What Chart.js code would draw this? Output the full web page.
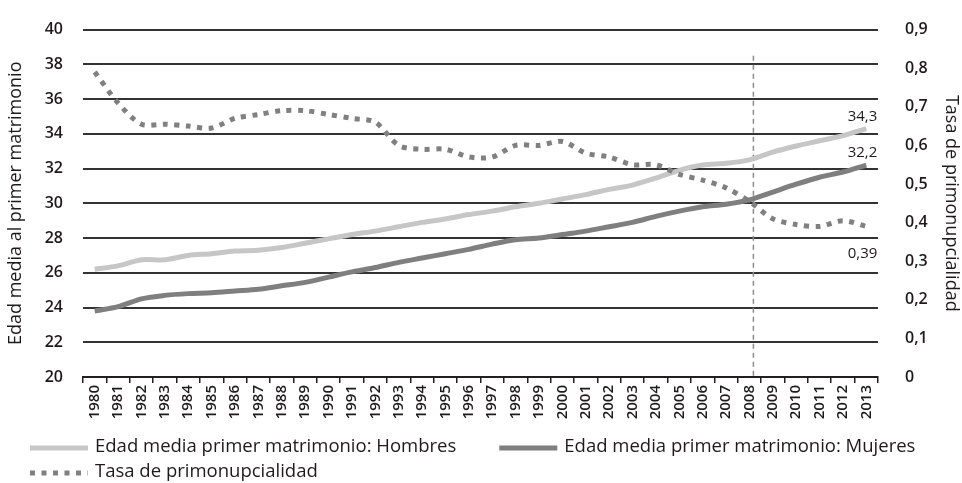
<!DOCTYPE html>
<html>
<head>
<meta charset="utf-8">
<script src="https://cdn.jsdelivr.net/npm/chart.js@4.4.1/dist/chart.umd.min.js"></script>
<style>
  html, body { margin: 0; padding: 0; background: #fff; }
  #wrap { width: 962px; height: 483px; }
</style>
</head>
<body>
<div id="wrap"><canvas id="chart"></canvas></div>
<script>
const years = ['1980', '1981', '1982', '1983', '1984', '1985', '1986', '1987', '1988', '1989',
    '1990', '1991', '1992', '1993', '1994', '1995', '1996', '1997', '1998', '1999',
    '2000', '2001', '2002', '2003', '2004', '2005', '2006', '2007', '2008', '2009',
    '2010', '2011', '2012', '2013'];

const edadHombres = [26.2, 26.4, 26.75, 26.75, 27.0, 27.1, 27.25, 27.3, 27.45, 27.7,
    27.95, 28.2, 28.4, 28.65, 28.9, 29.1, 29.35, 29.55, 29.8, 30.0,
    30.25, 30.5, 30.8, 31.05, 31.45, 31.9, 32.2, 32.3, 32.5, 32.95,
    33.3, 33.6, 33.9, 34.3];

const edadMujeres = [23.8, 24.05, 24.5, 24.7, 24.8, 24.85, 24.95, 25.05, 25.25, 25.45,
    25.75, 26.05, 26.3, 26.6, 26.85, 27.1, 27.35, 27.65, 27.9, 28.0,
    28.2, 28.4, 28.65, 28.9, 29.25, 29.55, 29.8, 29.95, 30.2, 30.65,
    31.1, 31.5, 31.8, 32.2];

const tasaPrimo = [0.79, 0.71, 0.655, 0.655, 0.65, 0.645, 0.67, 0.68, 0.69, 0.69,
    0.68, 0.67, 0.66, 0.60, 0.59, 0.59, 0.57, 0.57, 0.60, 0.60,
    0.61, 0.58, 0.57, 0.55, 0.55, 0.525, 0.51, 0.49, 0.455, 0.41,
    0.395, 0.39, 0.405, 0.39];

const endLabels = ['34,3', '32,2', '0,39'];
const markYear = '2008';

const textColor = '#1e1a1b';
const fontFamily = '"Open Sans", "DejaVu Sans", sans-serif';

// dashed marker line at 2008
const markerLine = {
    id: 'markerLine',
    beforeDatasetsDraw(chart) {
        const { ctx, scales } = chart;
        const x = scales.x.getPixelForValue(years.indexOf(markYear)) + 4;
        ctx.save();
        ctx.strokeStyle = '#8c8c8c';
        ctx.lineWidth = 1.5;
        ctx.setLineDash([5, 4]);
        ctx.beginPath();
        ctx.moveTo(x, scales.y.getPixelForValue(38.5));
        ctx.lineTo(x, chart.chartArea.bottom);
        ctx.stroke();
        ctx.restore();
    }
};

// value labels at the last point of each series
const endValues = {
    id: 'endValues',
    afterDatasetsDraw(chart) {
        const ctx = chart.ctx;
        ctx.save();
        ctx.font = '15px ' + fontFamily;
        ctx.fillStyle = textColor;
        ctx.textAlign = 'right';
        ctx.textBaseline = 'middle';
        chart.data.datasets.forEach((ds, i) => {
            const meta = chart.getDatasetMeta(i);
            const pt = meta.data[meta.data.length - 1];
            const dy = i === 2 ? 27 : -12;
            ctx.fillText(endLabels[i], pt.x + 11, pt.y + dy);
        });
        ctx.restore();
    }
};

// legend below the chart, two items on the first row, one on the second
const bottomLegend = {
    id: 'bottomLegend',
    afterDraw(chart) {
        const ctx = chart.ctx;
        const rows = [[0, 1], [2]];
        const rowY = [448, 473];
        ctx.save();
        ctx.font = '18.5px ' + fontFamily;
        ctx.fillStyle = textColor;
        ctx.textBaseline = 'middle';
        rows.forEach((row, r) => {
            let x = 30;
            row.forEach(i => {
                const ds = chart.data.datasets[i];
                ctx.save();
                ctx.strokeStyle = ds.borderColor;
                ctx.lineWidth = ds.borderWidth;
                ctx.setLineDash(ds.borderDash || []);
                ctx.lineCap = 'butt';
                ctx.beginPath();
                ctx.moveTo(x, rowY[r]);
                ctx.lineTo(x + 58, rowY[r]);
                ctx.stroke();
                ctx.restore();
                ctx.fillText(ds.label, x + 65, rowY[r] - 1);
                x += 65 + ctx.measureText(ds.label).width + 43;
            });
        });
        ctx.restore();
    }
};

new Chart(document.getElementById('chart'), {
    type: 'line',
    data: {
        labels: years,
        datasets: [{
            label: 'Edad media primer matrimonio: Hombres',
            data: edadHombres,
            yAxisID: 'y',
            borderColor: '#c6c6c6',
            borderWidth: 5,
            tension: 0.3,
            order: 2
        }, {
            label: 'Edad media primer matrimonio: Mujeres',
            data: edadMujeres,
            yAxisID: 'y',
            borderColor: '#7f7f7f',
            borderWidth: 5,
            tension: 0.3,
            order: 1
        }, {
            label: 'Tasa de primonupcialidad',
            data: tasaPrimo,
            yAxisID: 'y1',
            borderColor: '#808080',
            borderWidth: 5,
            borderDash: [5, 6.5],
            borderCapStyle: 'butt',
            tension: 0.3,
            order: 0
        }]
    },
    options: {
        responsive: true,
        maintainAspectRatio: false,
        animation: false,
        layout: { padding: { top: 26, bottom: 55, left: 0, right: 0 } },
        elements: { point: { radius: 0 } },
        plugins: {
            legend: { display: false },
            tooltip: { enabled: false }
        },
        scales: {
            x: {
                offset: true,
                grid: {
                    offset: true,
                    drawOnChartArea: false,
                    color: '#231f20',
                    lineWidth: 1.5,
                    tickLength: 6
                },
                border: { color: '#231f20', width: 2 },
                ticks: {
                    autoSkip: false,
                    maxRotation: 90,
                    minRotation: 90,
                    padding: 2,
                    color: textColor,
                    font: { family: fontFamily, size: 15, weight: '600' }
                },
                afterFit: s => { s.height = 51; }
            },
            y: {
                position: 'left',
                min: 20,
                max: 40,
                ticks: {
                    stepSize: 2,
                    padding: 20,
                    color: textColor,
                    font: { family: fontFamily, size: 16, weight: '600' }
                },
                grid: { color: '#333', lineWidth: 2, drawTicks: false },
                border: { display: false },
                title: {
                    display: true,
                    text: 'Edad media al primer matrimonio',
                    color: textColor,
                    padding: { top: 5, bottom: 0 },
                    font: { family: fontFamily, size: 18 }
                },
                afterFit: s => { s.width = 83; }
            },
            y1: {
                position: 'right',
                min: 0,
                max: 0.9,
                ticks: {
                    stepSize: 0.1,
                    padding: 19,
                    color: textColor,
                    font: { family: fontFamily, size: 16, weight: '600' },
                    callback: v => v === 0 ? '0' : v.toFixed(1).replace('.', ',')
                },
                grid: { display: false },
                border: { display: false },
                title: {
                    display: true,
                    text: 'Tasa de primonupcialidad',
                    color: textColor,
                    padding: { top: 0, bottom: 0 },
                    font: { family: fontFamily, size: 18 }
                },
                afterFit: s => { s.width = 84; }
            }
        }
    },
    plugins: [markerLine, endValues, bottomLegend]
});
</script>
</body>
</html>
